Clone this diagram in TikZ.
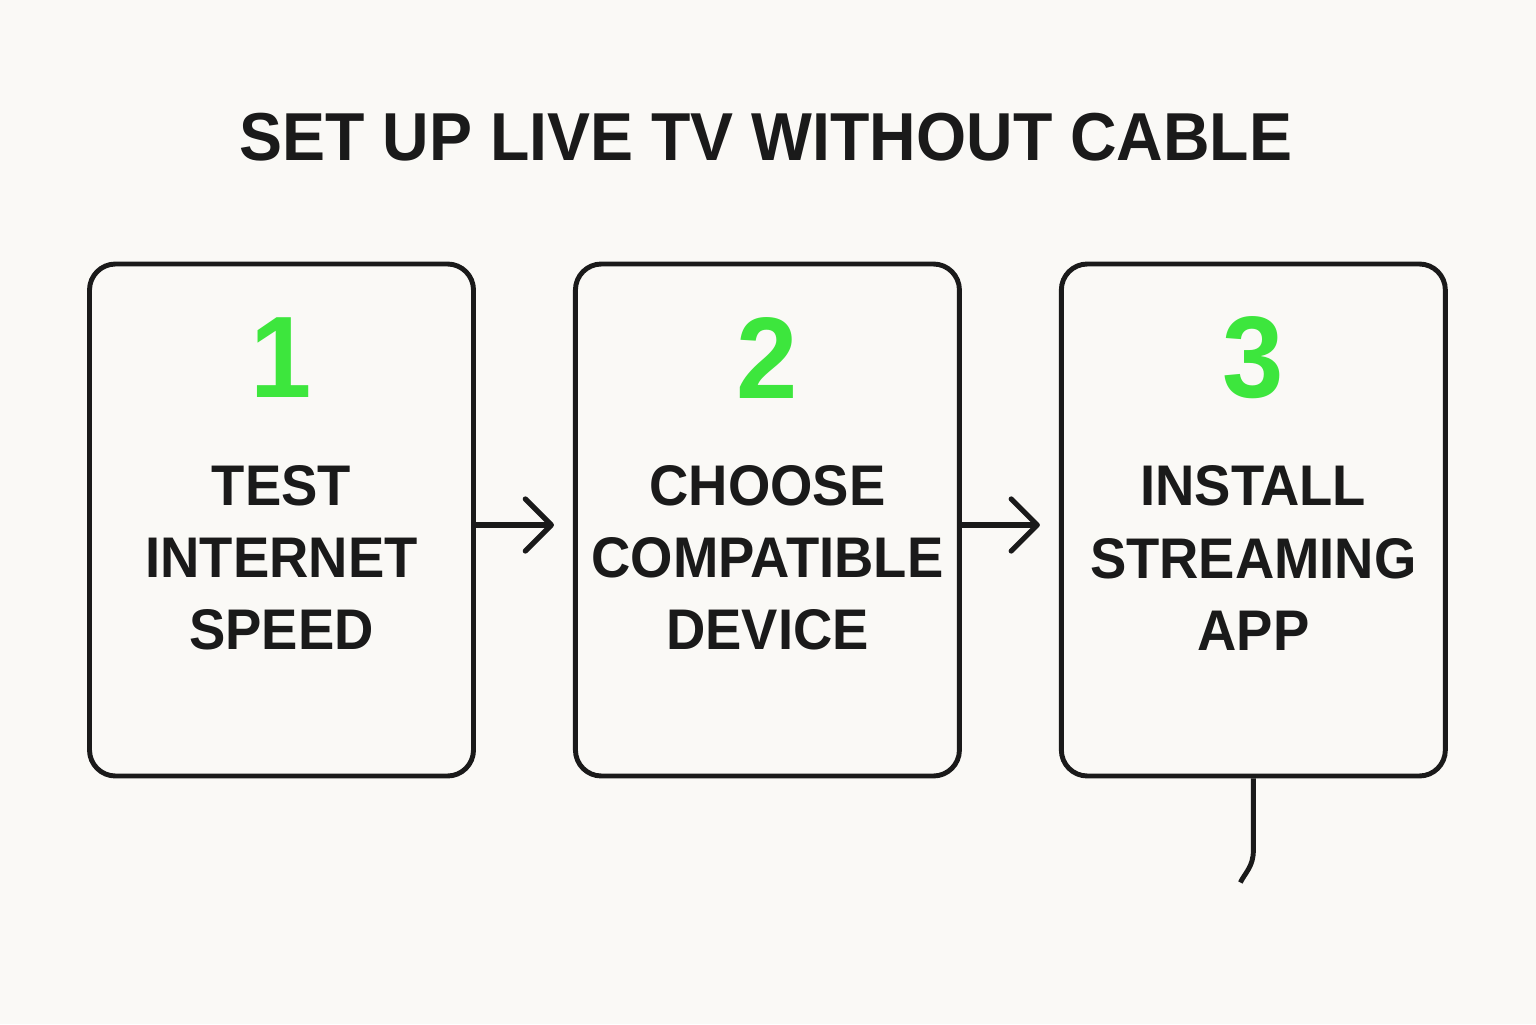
\documentclass[tikz,border=0pt]{standalone}
\usepackage{fontspec}
\setmainfont{Liberation Sans}[FakeStretch=0.95]
\usepackage{tikz}
\usetikzlibrary{arrows.meta,positioning}
\definecolor{paper}{HTML}{FAF9F6}
\definecolor{ink}{HTML}{1A1A1A}
\definecolor{stepgreen}{HTML}{3DE63D}
\tikzset{
  stepbox/.style  = {draw=ink,line width=1.4pt,rounded corners=0.26cm,
                     minimum width=3.84cm,minimum height=5.12cm},
  stepnum/.style  = {font=\fontsize{33}{36}\selectfont\bfseries,text=stepgreen},
  steplbl/.style  = {font=\fontsize{16.3}{20.5}\selectfont\bfseries,text=ink,align=center},
  flow/.style     = {-{Straight Barb[length=2.6mm,width=5.2mm,line width=1.5pt,round]},
                     draw=ink,line width=1.5pt,line cap=round,shorten >=0.19cm}
}
\begin{document}
\begin{tikzpicture}
  \fill[paper] (0,0) rectangle (15.36,10.24);
  \useasboundingbox (0,0) rectangle (15.36,10.24);
  \node[font=\fontsize{19.3}{23}\selectfont\bfseries,text=ink] (title) at (7.66,8.87)
    {SET UP LIVE TV WITHOUT CABLE};
  % the three steps
  \node[stepbox] (s1) at (2.815,5.04) {};
  \node[stepbox,right=0.97cm of s1] (s2) {};
  \node[stepbox,right=0.97cm of s2] (s3) {};
  \node[stepnum] (n1) at ([yshift=-0.96cm]s1.north) {1};
  \node[stepnum] (n2) at ([yshift=-0.96cm]s2.north) {2};
  \node[stepnum] (n3) at ([yshift=-0.96cm]s3.north) {3};
  \node[steplbl] (l1) at ([yshift=-0.38cm]s1.center) {TEST\\INTERNET\\SPEED};
  \node[steplbl] (l2) at ([yshift=-0.38cm]s2.center) {CHOOSE\\COMPATIBLE\\DEVICE};
  \node[steplbl] (l3) at ([yshift=-0.38cm]s3.center) {INSTALL\\STREAMING\\APP};
  % connectors
  \draw[flow] ([yshift=-0.05cm]s1.east) -- ([yshift=-0.05cm]s2.west);
  \draw[flow] ([yshift=-0.05cm]s2.east) -- ([yshift=-0.05cm]s3.west);
  \coordinate (tailend) at ([xshift=-0.13cm,yshift=-1.04cm]s3.south);
  \draw[ink,line width=1.4pt] (s3.south) -- ++(0,-0.72)
    .. controls +(0,-0.16) and +(0.05,0.1) .. (tailend);
\end{tikzpicture}
\end{document}
